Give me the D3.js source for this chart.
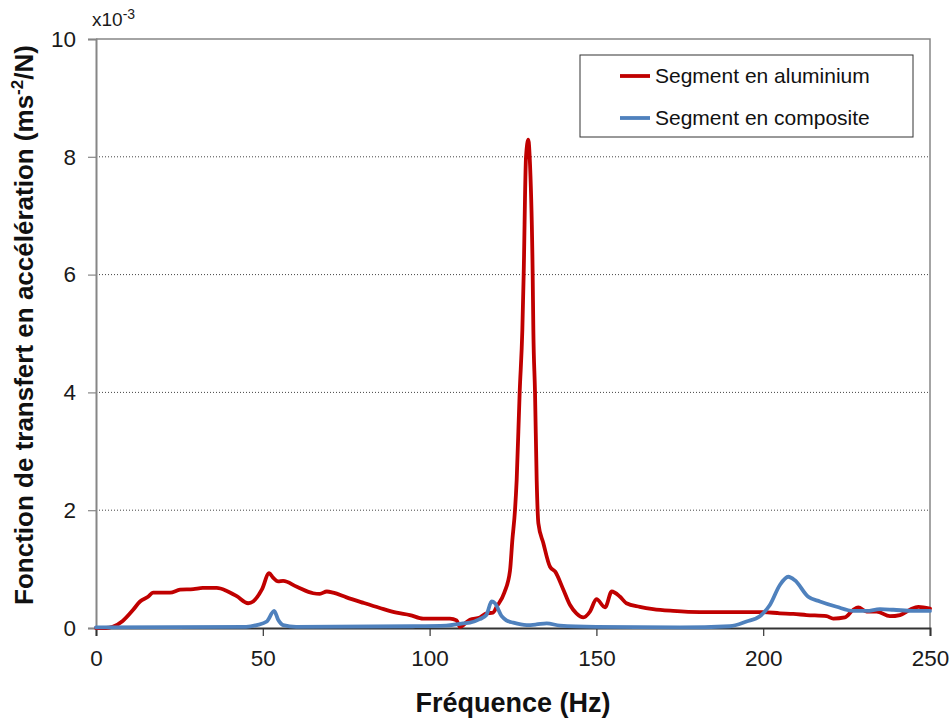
<!DOCTYPE html>
<html>
<head>
<meta charset="utf-8">
<script src="https://cdn.jsdelivr.net/npm/d3@7"></script>
<style>
  html, body { margin: 0; padding: 0; background: #fff; }
  svg { display: block; font-family: "Liberation Sans", Arial, sans-serif; }
</style>
</head>
<body>
<svg id="chart" width="952" height="719"></svg>
<script>
// Frequency response of the two segments (values in 1e-3 m·s^-2/N)
const aluFreq = [0, 3, 5, 8, 11, 13.2, 15.6, 17.1, 20, 22.2, 25.2, 29.2, 32, 36.2, 39.2, 42.2, 45.6, 47.1, 49.7, 51.9, 53, 54.6, 56.1, 60.2, 65.1, 67.1, 69.2, 71.1, 75.1, 80, 85.1, 90.1, 94.1, 98.1, 106.1, 108.1, 109.1, 111.1, 112.1, 115.1, 117.1, 119, 120.1, 122.4, 124.1, 124.8, 125.6, 126.1, 127, 127.8, 128.2, 128.9, 129.6, 130, 130.9, 131.1, 131.6, 132.1, 132.6, 134.1, 136.1, 137.6, 140.1, 142.1, 144, 146.1, 148.1, 150, 152.6, 154.6, 157.1, 159, 163, 167, 173, 181, 190, 200, 205, 209, 213, 219, 221, 224.5, 227, 228.5, 231, 234, 238, 241, 244, 246.5, 250];
const aluValues = [0, 0, 0.02, 0.12, 0.3, 0.45, 0.53, 0.6, 0.6, 0.6, 0.65, 0.66, 0.68, 0.68, 0.63, 0.54, 0.42, 0.45, 0.65, 0.93, 0.86, 0.79, 0.8, 0.7, 0.59, 0.58, 0.62, 0.6, 0.52, 0.43, 0.34, 0.26, 0.22, 0.16, 0.16, 0.13, 0.02, 0.1, 0.14, 0.18, 0.25, 0.26, 0.36, 0.6, 0.97, 1.49, 2.0, 2.51, 4.0, 5.06, 6.0, 8.0, 8.29, 8.0, 6.0, 5.06, 4.0, 2.51, 1.78, 1.44, 1.04, 0.96, 0.65, 0.39, 0.25, 0.18, 0.28, 0.49, 0.35, 0.62, 0.53, 0.42, 0.36, 0.32, 0.29, 0.27, 0.27, 0.27, 0.25, 0.24, 0.22, 0.2, 0.16, 0.18, 0.31, 0.35, 0.28, 0.28, 0.2, 0.22, 0.31, 0.36, 0.33];

const compFreq = [0, 45, 48.2, 51.2, 53.4, 54.6, 56.1, 60, 95, 105, 110, 112.1, 115, 117, 118.6, 119.6, 121.6, 123, 125.1, 129.1, 132, 135.1, 139.1, 150, 175, 190, 195, 199, 202, 205, 207.5, 209.5, 213.5, 217, 222, 227, 231, 235, 239, 245, 250];
const compValues = [0.01, 0.02, 0.05, 0.11, 0.29, 0.14, 0.05, 0.02, 0.03, 0.04, 0.08, 0.09, 0.15, 0.22, 0.45, 0.42, 0.2, 0.13, 0.09, 0.05, 0.06, 0.08, 0.04, 0.02, 0.01, 0.03, 0.11, 0.2, 0.39, 0.73, 0.87, 0.81, 0.53, 0.45, 0.36, 0.29, 0.29, 0.32, 0.31, 0.29, 0.29];

const xTicks = [0, 50, 100, 150, 200, 250];
const yTicks = [0, 2, 4, 6, 8, 10];
const seriesNames = ["Segment en aluminium", "Segment en composite"];
const seriesColors = ["#C00000", "#4F81BD"];

const svg = d3.select("#chart");
const plotLeft = 96, plotRight = 930, plotTop = 39, plotBottom = 628;

const x = d3.scaleLinear().domain([0, 250]).range([plotLeft, plotRight]);
const y = d3.scaleLinear().domain([0, 10]).range([plotBottom, plotTop]);

// dotted horizontal gridlines
svg.append("g")
  .selectAll("line")
  .data(yTicks.filter(d => d > 0 && d < 10))
  .join("line")
  .attr("x1", plotLeft).attr("x2", plotRight)
  .attr("y1", d => y(d)).attr("y2", d => y(d))
  .attr("stroke", "#444").attr("stroke-width", 1)
  .attr("stroke-dasharray", "1,2");

// plot frame (top and right edges)
svg.append("path")
  .attr("d", `M${plotLeft},${plotTop}H${plotRight}V${plotBottom}`)
  .attr("fill", "none").attr("stroke", "#868686").attr("stroke-width", 1.5);

// y axis
const yAxis = d3.axisLeft(y).tickValues(yTicks).tickSize(8).tickPadding(12).tickFormat(d3.format("d"));
const gy = svg.append("g").attr("transform", `translate(${plotLeft},0)`).call(yAxis);
gy.select(".domain").attr("stroke", "#868686").attr("stroke-width", 2);
gy.selectAll(".tick line").attr("stroke", "#868686").attr("stroke-width", 1.2);
gy.selectAll(".tick text").attr("font-size", 22.5).attr("fill", "#1a1a1a")
  .attr("font-family", "Liberation Sans, Arial, sans-serif");

// x axis
const xAxis = d3.axisBottom(x).tickValues(xTicks).tickSize(8).tickPadding(14).tickFormat(d3.format("d"));
const gx = svg.append("g").attr("transform", `translate(0,${plotBottom})`).call(xAxis);
gx.select(".domain").attr("stroke", "#333").attr("stroke-width", 2);
gx.selectAll(".tick line").attr("stroke", "#333").attr("stroke-width", 1.2);
gx.selectAll(".tick text").attr("font-size", 22.5).attr("fill", "#1a1a1a")
  .attr("font-family", "Liberation Sans, Arial, sans-serif");

// curves
const line = d3.line()
  .x(d => x(d[0])).y(d => y(d[1]))
  .curve(d3.curveMonotoneX);

const series = [
  d3.zip(aluFreq, aluValues),
  d3.zip(compFreq, compValues)
];

svg.append("g")
  .selectAll("path")
  .data(series)
  .join("path")
  .attr("d", line)
  .attr("fill", "none")
  .attr("stroke", (d, i) => seriesColors[i])
  .attr("stroke-width", 3.8)
  .attr("stroke-linejoin", "round")
  .attr("stroke-linecap", "round");

// scale multiplier label
const mult = svg.append("text").attr("x", 92).attr("y", 26)
  .attr("font-size", 19).attr("fill", "#1a1a1a");
mult.append("tspan").text("x10");
mult.append("tspan").attr("dy", -7).attr("font-size", 14).text("-3");

// axis titles
svg.append("text")
  .attr("x", (plotLeft + plotRight) / 2).attr("y", 712)
  .attr("text-anchor", "middle")
  .attr("font-size", 27).attr("font-weight", "bold").attr("fill", "#111")
  .text("Fréquence (Hz)");

const yt = svg.append("text")
  .attr("transform", `translate(33,325) rotate(-90)`)
  .attr("text-anchor", "middle")
  .attr("font-size", 26).attr("font-weight", "bold").attr("fill", "#111");
yt.append("tspan").text("Fonction de transfert en accélération (ms");
yt.append("tspan").attr("dy", -10).attr("font-size", 17).text("-2");
yt.append("tspan").attr("dy", 10).text("/N)");

// legend
const legend = svg.append("g");
legend.append("rect")
  .attr("x", 580).attr("y", 55).attr("width", 333).attr("height", 82)
  .attr("fill", "#fff").attr("stroke", "#333").attr("stroke-width", 1);
const legendRows = legend.selectAll("g.row")
  .data(seriesNames)
  .join("g")
  .attr("class", "row")
  .attr("transform", (d, i) => `translate(0,${76 + i * 42})`);
legendRows.append("line")
  .attr("x1", 620).attr("x2", 650)
  .attr("stroke", (d, i) => seriesColors[i]).attr("stroke-width", 3.8);
legendRows.append("text")
  .attr("x", 655).attr("y", 7)
  .attr("font-size", 21).attr("fill", "#111")
  .text(d => d);
</script>
</body>
</html>
